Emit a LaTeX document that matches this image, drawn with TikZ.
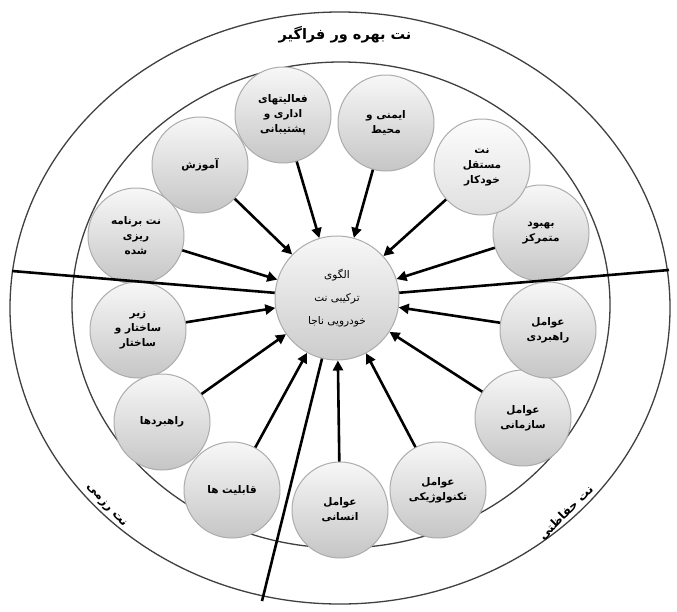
\documentclass[tikz,border=0pt]{standalone}
\usepackage{fontspec}
\newfontfamily\farsi[Script=Arabic]{DejaVu Sans}
\TeXXeTstate=1
\usetikzlibrary{arrows.meta}
\newcommand\pr[1]{\beginR #1\endR}
\tikzset{
  sat/.style={circle, minimum size=96pt, inner sep=0pt, draw=gray!65, line width=1pt,
    top color=gray!6, bottom color=gray!45, align=center,
    font=\farsi\bfseries\fontsize{10.5}{15}\selectfont},
  hub/.style={circle, minimum size=124pt, inner sep=0pt, draw=gray!65, line width=1pt,
    top color=gray!6, bottom color=gray!40, align=center,
    font=\farsi\fontsize{10.5}{23}\selectfont},
  arr/.style={line width=2.6pt, -{Triangle[length=10pt,width=10pt]}},
  divider/.style={line width=2.6pt},
  ring/.style={draw=black!75, line width=1.3pt},
  ringtext/.style={font=\farsi\bfseries\fontsize{14.5}{16}\selectfont},
  sidetext/.style={font=\farsi\bfseries\fontsize{12}{14}\selectfont}
}
\begin{document}
\begin{tikzpicture}[x=1pt,y=-1pt]
\useasboundingbox (0,0) rectangle (677,611);
\fill[white] (0,0) rectangle (677,611);
% rings
\draw[ring] (340,308) ellipse [x radius=330pt, y radius=296pt];
\draw[ring] (341,305) ellipse [x radius=269pt, y radius=243pt];
% ring texts
\node[ringtext] (ttop) at (345,35) {\pr{نت بهره ور فراگیر}};
\node[sidetext, rotate=-48] (tleft) at (106,506) {\pr{نت رزمی}};
\node[sidetext, rotate=45] (tright) at (566,513) {\pr{نت حفاظتی}};
% hub
\node[hub] (c) at (337,298) {\pr{الگوی}\\\pr{ترکیبی نت}\\\pr{خودرویی ناجا}};
% satellites
\node[sat] (s1) at (386,123) {\pr{ایمنی و}\\\pr{محیط}};
\node[sat] (s2) at (283,115) {\pr{فعالیتهای}\\\pr{اداری و}\\\pr{پشتیبانی}};
\node[sat] (s3) at (200,165) {\pr{آموزش}};
\node[sat] (s4) at (136,236) {\pr{نت برنامه}\\\pr{ریزی}\\\pr{شده}};
\node[sat] (s5) at (138,330) {\pr{زیر}\\\pr{ساختار و}\\\pr{ساختار}};
\node[sat] (s6) at (162,422) {\pr{راهبردها}};
\node[sat] (s7) at (232,490) {\pr{قابلیت ها}};
\node[sat] (s8) at (340,510) {\pr{عوامل}\\\pr{انسانی}};
\node[sat] (s9) at (438,490) {\pr{عوامل}\\\pr{تکنولوژیکی}};
\node[sat] (s10) at (523,418) {\pr{عوامل}\\\pr{سازمانی}};
\node[sat] (s11) at (548,330) {\pr{عوامل}\\\pr{راهبردی}};
\node[sat] (s12) at (541,233) {\pr{بهبود}\\\pr{متمرکز}};
\node[sat, top color=gray!2, bottom color=gray!25] (s13) at (482,167) {\pr{نت}\\\pr{مستقل}\\\pr{خودکار}};
% dividers
\coordinate (dl) at (12,271);
\coordinate (dr) at (669,270);
\coordinate (db) at (262,601);
\draw[divider] (dl) -- (c);
\draw[divider] (dr) -- (c);
\draw[divider] (db) -- (c);
% arrows
\foreach \s in {s1,s2,s3,s4,s5,s6,s7,s8,s9,s10,s11,s12,s13}
  \draw[arr] (\s) -- (c);
\end{tikzpicture}
\end{document}
